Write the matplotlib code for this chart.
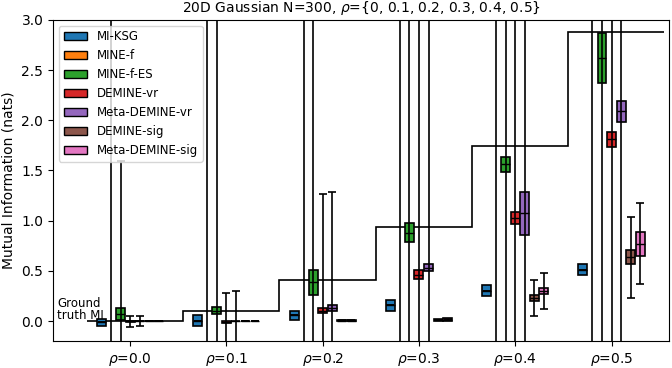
import numpy as np
import matplotlib.pyplot as plt
from matplotlib.patches import Patch

rhos = np.array([0.0, 0.1, 0.2, 0.3, 0.4, 0.5])
tick_labels = [r'$\rho$=0.0', r'$\rho$=0.1', r'$\rho$=0.2', r'$\rho$=0.3', r'$\rho$=0.4', r'$\rho$=0.5']
true_mi = [0.0, 0.10, 0.41, 0.94, 1.74, 2.88]

methods = ['MI-KSG', 'MINE-f', 'MINE-f-ES', 'DEMINE-vr', 'Meta-DEMINE-vr', 'DEMINE-sig', 'Meta-DEMINE-sig']
colors = ['#1f77b4', '#ff7f0e', '#2ca02c', '#d62728', '#9467bd', '#8c564b', '#e377c2']

# box quartiles, one row per method, one column per rho
q1 = [[-0.045, -0.054, 0.013, 0.105, 0.245, 0.454],
      [-4.0, -4.0, -4.0, -4.0, -4.0, -4.0],
      [0.013, 0.07, 0.255, 0.786, 1.48, 2.368],
      [-0.005, -0.02, 0.08, 0.414, 0.965, 1.737],
      [-0.004, -0.004, 0.105, 0.497, 0.862, 1.986],
      [-0.003, -0.003, 0.0, 0.005, 0.195, 0.567],
      [-0.003, -0.003, 0.0, 0.0, 0.27, 0.65]]
med = [[-0.01, 0.0, 0.06, 0.16, 0.30, 0.51],
       [-2.0, -2.0, -2.0, -2.0, -2.0, -2.0],
       [0.073, 0.105, 0.385, 0.88, 1.56, 2.617],
       [0.0, -0.01, 0.105, 0.46, 1.03, 1.81],
       [0.0, 0.0, 0.135, 0.53, 1.08, 2.09],
       [0.0, 0.0, 0.004, 0.012, 0.225, 0.64],
       [0.0, 0.0, 0.004, 0.015, 0.30, 0.77]]
q3 = [[0.025, 0.056, 0.105, 0.212, 0.36, 0.57],
      [-0.8, -0.8, -0.8, -0.8, -0.8, -0.8],
      [0.13, 0.14, 0.51, 0.975, 1.635, 2.866],
      [0.005, 0.0, 0.13, 0.507, 1.09, 1.887],
      [0.004, 0.004, 0.162, 0.567, 1.284, 2.19],
      [0.003, 0.003, 0.008, 0.02, 0.255, 0.709],
      [0.003, 0.003, 0.008, 0.03, 0.33, 0.886]]

# error bar ends
err_lo = [[-0.01, 0.0, 0.06, 0.16, 0.30, 0.51],
          [-9.0, -9.0, -9.0, -9.0, -9.0, -9.0],
          [-1.45, -4.0, -4.0, -4.0, -4.0, -4.0],
          [-0.057, -0.29, -1.06, -4.0, -4.0, -4.0],
          [-0.05, -0.30, -1.02, -4.0, -4.0, -4.0],
          [-0.002, -0.002, 0.002, 0.01, 0.046, 0.229],
          [-0.002, -0.002, 0.002, 0.012, 0.12, 0.371]]
err_hi = [[-0.01, 0.0, 0.06, 0.16, 0.30, 0.51],
          [9.0, 9.0, 9.0, 9.0, 9.0, 9.0],
          [1.595, 5.0, 5.0, 5.0, 5.0, 5.0],
          [0.046, 0.28, 1.264, 5.0, 5.0, 5.0],
          [0.05, 0.295, 1.29, 5.0, 5.0, 5.0],
          [0.002, 0.002, 0.006, 0.014, 0.404, 1.035],
          [0.002, 0.002, 0.006, 0.018, 0.478, 1.174]]

fig = plt.figure(figsize=(6.72, 3.68), dpi=100)
ax = fig.add_axes([0.079, 0.073, 0.917, 0.873])

for i, m in enumerate(methods):
    pos = rhos + (i - 3) * 0.0099
    stats = []
    for j in range(len(rhos)):
        stats.append(dict(med=med[i][j], q1=q1[i][j], q3=q3[i][j],
                          whislo=q1[i][j], whishi=q3[i][j], fliers=[]))
    ax.bxp(stats, positions=pos, widths=0.0093, patch_artist=True,
           showcaps=False, showfliers=False, manage_ticks=False,
           boxprops=dict(facecolor=colors[i], edgecolor='k', linewidth=1.2),
           medianprops=dict(color='k', linewidth=1.0),
           whiskerprops=dict(linewidth=0))
    lo = np.array(err_lo[i])
    hi = np.array(err_hi[i])
    ax.errorbar(pos, (lo + hi) / 2, yerr=(hi - lo) / 2, fmt='none', ecolor='k',
                elinewidth=1.2, capsize=3, capthick=1.2, zorder=4)

edges = np.append(rhos - 0.045, rhos[-1] + 0.055)
ax.stairs(true_mi, edges, color='k', linewidth=1.2, baseline=None, zorder=1)
ax.text(-0.076, -0.005, 'Ground\ntruth MI', fontsize=8.5, va='bottom', linespacing=0.85)

ax.set_xlim(-0.08, 0.56)
ax.set_ylim(-0.2, 3.0)
ax.set_xticks(rhos)
ax.set_xticklabels(tick_labels)
ax.set_ylabel('Mutual Information (nats)')
ax.set_title(r'20D Gaussian N=300, $\rho$={0, 0.1, 0.2, 0.3, 0.4, 0.5}', fontsize=10)

handles = [Patch(facecolor=c, edgecolor='k', label=m) for c, m in zip(colors, methods)]
ax.legend(handles=handles, loc='upper left', fontsize=8.5)

fig.savefig('out.png', dpi=100)
